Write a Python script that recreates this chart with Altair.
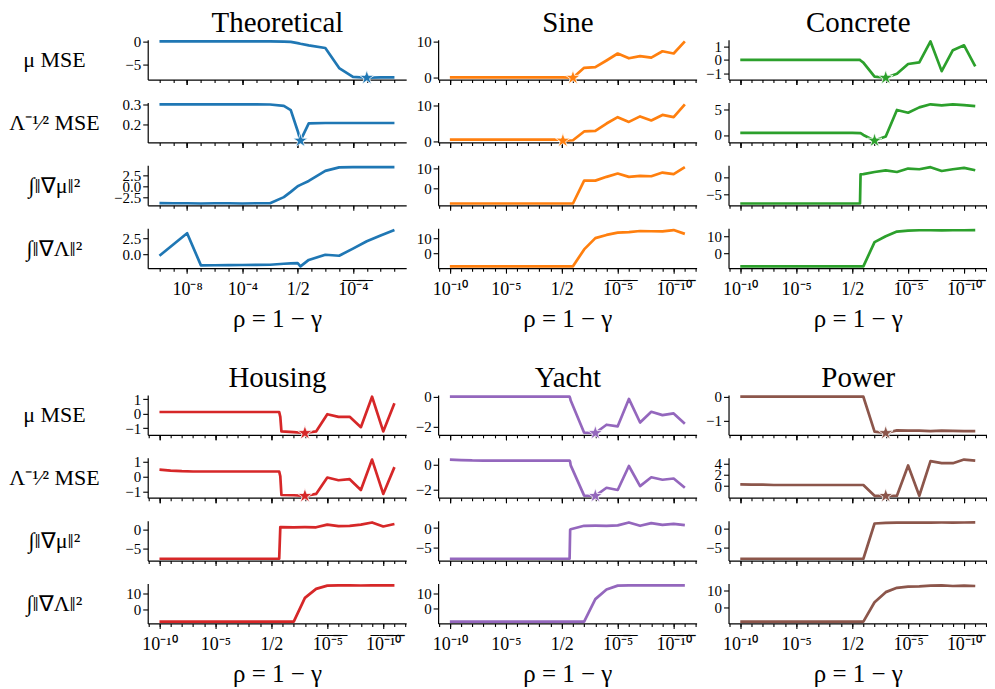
import altair as alt
import pandas as pd

# x positions are log-odds positions  u = log10(rho / (1 - rho))  (logit axis)
theo_x = [-10, -9, -8, -7, -6, -5, -4, -3, -2, -1, -0.5, 0, 0.2, 0.8, 2, 3, 4, 5, 6, 7]
theo_mu = [0, 0, 0, 0, 0, 0, 0, 0, 0, -0.02, -0.1, -0.35, -0.5, -0.85, -1.4, -5.7, -7.6, -7.78, -7.7, -7.7]
theo_lam = [0.300, 0.300, 0.300, 0.300, 0.300, 0.300, 0.300, 0.300, 0.299, 0.292, 0.272, 0.17, 0.123, 0.207, 0.209, 0.209, 0.209, 0.209, 0.209, 0.209]
theo_gmu = [-3.85, -3.9, -3.9, -3.95, -3.9, -3.9, -3.95, -3.9, -3.9, -2.5, -1.3, 0.0, 0.3, 1.2, 3.5, 4.3, 4.35, 4.35, 4.35, 4.35]
theo_glam = [-0.26, 1.56, 3.39, -1.82, -1.8, -1.78, -1.76, -1.75, -1.72, -1.56, -1.5, -1.46, -1.98, -0.94, -0.1, -0.26, 0.89, 2.08, 3.02, 3.9]

sine_x = [-10, -9, -8, -7, -6, -5, -4, -3, -2, -1, 0, 0.1, 1, 2, 3, 4, 5, 6, 7, 8, 9, 10, 11]
sine_mu = [0, 0, 0, 0, 0, 0, 0, 0, 0, 0, 0, 0, -0.1, 2.65, 2.83, 4.7, 6.64, 5.31, 5.93, 5.49, 7.26, 6.64, 10.0]
sine_lam = [0.55, 0.55, 0.55, 0.55, 0.55, 0.55, 0.55, 0.55, 0.55, 0.55, 0.55, 0.3, 0.4, 2.8, 2.96, 4.96, 6.7, 5.4, 6.9, 5.8, 7.3, 6.7, 10.2]
sine_gmu = [-8, -8, -8, -8, -8, -8, -8, -8, -8, -8, -8, -8, -8, 3.8, 3.85, 5.8, 7.5, 5.8, 6.3, 6.1, 8.0, 7.2, 10.8]
sine_glam = [-8.5, -8.5, -8.5, -8.5, -8.5, -8.5, -8.5, -8.5, -8.5, -8.5, -8.5, -8.5, -8.5, 2.6, 10.0, 12.1, 13.6, 14.0, 14.7, 14.5, 14.4, 15.3, 12.8]

conc_x = [-10, -9, -8, -7, -6, -5, -4, -3, -2, -1, 0, 0.7, 0.75, 1, 2, 3, 4, 5, 6, 7, 8, 9, 10, 11]
conc_mu = [0, 0, 0, 0, 0, 0, 0, 0, 0, 0, 0, 0, -0.05, -0.2, -1.25, -1.33, -1.04, -0.31, -0.19, 1.37, -0.84, 0.72, 1.08, -0.48]
conc_lam = [0.42, 0.41, 0.4, 0.4, 0.4, 0.4, 0.4, 0.4, 0.4, 0.4, 0.4, 0.38, 0.36, 0.0, -1.1, -0.3, 4.9, 4.35, 5.4, 6.0, 5.8, 6.0, 5.85, 5.65]
conc_gmu = [-7.7, -7.7, -7.7, -7.7, -7.7, -7.7, -7.7, -7.7, -7.7, -7.7, -7.7, -7.7, 0.75, 0.8, 1.4, 1.9, 1.4, 2.4, 2.2, 2.8, 1.7, 2.2, 2.6, 1.9]
conc_glam = [-7.7, -7.7, -7.7, -7.7, -7.7, -7.7, -7.7, -7.7, -7.7, -7.7, -7.7, -7.7, -7.7, -7.7, 6.5, 10.0, 12.7, 13.3, 13.5, 13.5, 13.4, 13.5, 13.5, 13.6]

hous_x = [-10, -9, -8, -7, -6, -5, -4, -3, -2, -1, 0, 0.7, 0.8, 0.9, 2, 3, 4, 5, 6, 7, 8, 9, 10, 11]
hous_mu = [0.11, 0.11, 0.11, 0.11, 0.11, 0.11, 0.11, 0.11, 0.11, 0.11, 0.11, 0.11, -0.22, -1.22, -1.27, -1.33, -1.22, -0.04, -0.22, -0.22, -0.93, 1.16, -1.22, 0.71]
hous_lam = [0.48, 0.42, 0.38, 0.36, 0.36, 0.36, 0.36, 0.36, 0.36, 0.36, 0.36, 0.36, 0.04, -1.2, -1.22, -1.26, -1.13, -0.04, -0.22, -0.15, -0.87, 1.15, -1.13, 0.65]
hous_gmu = [-7.6, -7.6, -7.6, -7.6, -7.6, -7.6, -7.6, -7.6, -7.6, -7.6, -7.6, -7.6, 0.58, 0.6, 0.55, 0.58, 0.55, 1.25, 0.83, 0.9, 1.25, 1.8, 0.75, 1.4]
hous_glam = [-7.35, -7.35, -7.35, -7.35, -7.35, -7.35, -7.35, -7.35, -7.35, -7.35, -7.35, -7.35, -7.35, -7.35, -7.35, 7.5, 13.1, 15.1, 15.3, 15.3, 15.2, 15.3, 15.3, 15.3]

yach_x = [-10, -9, -8, -7, -6, -5, -4, -3, -2, -1, 0, 0.7, 0.75, 0.8, 2, 3, 4, 5, 6, 7, 8, 9, 10, 11]
yach_mu = [0, 0, 0, 0, 0, 0, 0, 0, 0, 0, 0, 0, -0.1, -0.26, -2.43, -2.45, -1.89, -2.0, -0.15, -1.74, -1.02, -1.24, -1.13, -1.83]
yach_lam = [0.38, 0.34, 0.31, 0.3, 0.3, 0.3, 0.3, 0.3, 0.3, 0.3, 0.3, 0.3, 0.2, -0.08, -2.5, -2.52, -1.87, -2.05, -0.13, -1.74, -1.03, -1.23, -1.13, -1.87]
yach_gmu = [-8, -8, -8, -8, -8, -8, -8, -8, -8, -8, -8, -8, -0.43, -0.3, 0.6, 0.62, 0.6, 0.7, 1.47, 0.6, 1.3, 0.86, 1.1, 0.78]
yach_glam = [-8.7, -8.7, -8.7, -8.7, -8.7, -8.7, -8.7, -8.7, -8.7, -8.7, -8.7, -8.7, -8.7, -8.7, -8.7, 6.5, 13.0, 15.6, 15.8, 15.8, 15.8, 15.8, 15.8, 15.8]

powr_x = [-10, -9, -8, -7, -6, -5, -4, -3, -2, -1, 0, 1, 2, 3, 4, 5, 6, 7, 8, 9, 10, 11]
powr_mu = [0, 0, 0, 0, 0, 0, 0, 0, 0, 0, 0, 0, -1.45, -1.51, -1.4, -1.41, -1.41, -1.43, -1.41, -1.42, -1.43, -1.43]
powr_lam = [0.34, 0.3, 0.27, 0.22, 0.22, 0.22, 0.22, 0.22, 0.22, 0.22, 0.22, 0.22, -1.71, -1.72, -1.7, 3.7, -1.7, 4.46, 4.1, 4.1, 4.74, 4.57]
powr_gmu = [-7.85, -7.85, -7.85, -7.85, -7.85, -7.85, -7.85, -7.85, -7.85, -7.85, -7.85, -7.85, 1.47, 1.64, 1.72, 1.72, 1.73, 1.72, 1.74, 1.73, 1.74, 1.75]
powr_glam = [-8.8, -8.8, -8.8, -8.8, -8.8, -8.8, -8.8, -8.8, -8.8, -8.8, -8.8, -8.8, 2.9, 9.0, 11.6, 12.35, 12.5, 12.9, 13.1, 12.7, 12.9, 12.7]

titles = ["Theoretical", "Sine", "Concrete", "Housing", "Yacht", "Power"]
colors = ["#1f77b4", "#ff7f0e", "#2ca02c", "#d62728", "#9467bd", "#8c564b"]
row_labels = ["μ MSE", "Λ⁻¹⁄² MSE", "∫‖∇μ‖²", "∫‖∇Λ‖²"]
x_title = "ρ = 1 − γ"

yticks = {
    "Theoretical": [[0, -5], [0.2, 0.3], [-2.5, 0.0, 2.5], [0.0, 2.5]],
    "Sine": [[0, 10], [0, 10], [0, 10], [0, 10]],
    "Concrete": [[-1, 0, 1], [0, 5], [-5, 0], [0, 10]],
    "Housing": [[-1, 0, 1], [-1, 0, 1], [-5, 0], [0, 10]],
    "Yacht": [[-2, 0], [-2, 0], [-5, 0], [0, 10]],
    "Power": [[-1, 0], [0, 2, 4], [-5, 0], [0, 10]],
}
yfmt = {"Theoretical": [".0f", ".1f", ".1f", ".1f"]}

series = {
    "Theoretical": (theo_x, [theo_mu, theo_lam, theo_gmu, theo_glam]),
    "Sine": (sine_x, [sine_mu, sine_lam, sine_gmu, sine_glam]),
    "Concrete": (conc_x, [conc_mu, conc_lam, conc_gmu, conc_glam]),
    "Housing": (hous_x, [hous_mu, hous_lam, hous_gmu, hous_glam]),
    "Yacht": (yach_x, [yach_mu, yach_lam, yach_gmu, yach_glam]),
    "Power": (powr_x, [powr_mu, powr_lam, powr_gmu, powr_glam]),
}

FONT = "Liberation Serif"
W, H = 259, 40

# five-pointed star symbol in the unit square
STAR = ("M0,-1L0.225,-0.309L0.951,-0.309L0.363,0.118L0.588,0.809L0,0.382"
        "L-0.588,0.809L-0.363,0.118L-0.951,-0.309L-0.225,-0.309Z")

OV = "\u0305"


def over(s):
    return "".join(c + OV for c in s)


TXT = dict(titleFont=FONT, titleFontWeight="normal", titleColor="black")


def x_axes(theo, bottom, top_title):
    if theo:
        minor = list(range(-10, 8))
        major = [-8, -4, 0, 4]
        lab = ("datum.value == -8 ? '10⁻⁸' : datum.value == -4 ? '10⁻⁴' : "
               "datum.value == 0 ? '1/2' : '" + over("10⁻⁴") + "'")
    else:
        minor = list(range(-11, 13))
        major = [-10, -5, 0, 5, 10]
        lab = ("datum.value == -10 ? '10⁻¹⁰' : datum.value == -5 ? '10⁻⁵' : "
               "datum.value == 0 ? '1/2' : datum.value == 5 ? '" + over("10⁻⁵") + "' : '"
               + over("10⁻¹⁰") + "'")
    minor_ax = alt.Axis(values=minor, tickSize=3, labels=False, title=None, grid=False,
                        orient="bottom")
    kw = dict(values=major, tickSize=5, labels=bottom, labelExpr=lab, labelFlush=False,
              labelOverlap=False, labelFontSize=18, labelPadding=7, grid=False,
              domain=False, orient="bottom")
    if bottom:
        kw.update(title=x_title, titleFontSize=25, titlePadding=8, **TXT)
    else:
        kw.update(title=None)
    top_ax = None
    if top_title:
        top_ax = alt.Axis(orient="top", domain=False, ticks=False, labels=False, grid=False,
                          title=top_title, titleFontSize=29, titlePadding=2, **TXT)
    return minor_ax, alt.Axis(**kw), top_ax


def panel(name, r, first_col):
    xs, ys_all = series[name]
    ys = ys_all[r]
    color = colors[titles.index(name)]
    theo = name == "Theoretical"
    df = pd.DataFrame({"u": xs, "v": ys})
    lo, hi = min(ys), max(ys)
    pad = 0.05 * (hi - lo)
    ydom = [lo - pad, hi + pad]
    xdom = [-10.85, 7.85] if theo else [-11.05, 12.05]
    fmt = yfmt.get(name, [".0f"] * 4)[r]
    ykw = dict(values=yticks[name][r], format=fmt, tickSize=5, labelFontSize=15,
               labelPadding=2, labelFlush=False, labelOverlap=False, grid=False)
    if first_col:
        ykw.update(title=row_labels[r], titleAngle=0, titleAlign="center",
                   titleBaseline="middle", titleX=-94, titleY=H / 2, titleFontSize=22, **TXT)
    else:
        ykw.update(title=None)
    minor_ax, major_ax, top_ax = x_axes(theo, r == 3, name if r == 0 else None)
    xscale = alt.Scale(domain=xdom, nice=False, zero=False)
    yenc = alt.Y("v:Q", scale=alt.Scale(domain=ydom, nice=False, zero=False),
                 axis=alt.Axis(**ykw))
    line = alt.Chart(df).mark_line(color=color, strokeWidth=2.7, strokeJoin="round").encode(
        x=alt.X("u:Q", scale=xscale, axis=minor_ax), y=yenc)
    ghost = alt.Chart(df).mark_line(color=color, strokeWidth=0, opacity=0).encode(
        x=alt.X("u:Q", scale=xscale, axis=major_ax), y=yenc)
    layers = [line, ghost]
    if top_ax is not None:
        ghost_top = alt.Chart(df).mark_line(color=color, strokeWidth=0, opacity=0).encode(
            x=alt.X("u:Q", scale=xscale, axis=top_ax), y=yenc)
        layers.append(ghost_top)
    if r < 2:
        star_df = df.loc[[df["v"].idxmin()]]
        star = alt.Chart(star_df).mark_point(shape=STAR, filled=True, size=240, fill=color,
                                             stroke="white", strokeWidth=0.8, opacity=1).encode(
            x=alt.X("u:Q", scale=xscale, axis=major_ax), y=yenc)
        layers.append(star)
    return alt.layer(*layers).resolve_axis(x="independent").properties(width=W, height=H)


def spacer(h):
    return alt.Chart(pd.DataFrame({"a": [0]})).mark_point(opacity=0).encode(
        x=alt.X("a:Q", axis=None), y=alt.Y("a:Q", axis=None)).properties(width=W, height=h)


cells = []
for block in (titles[:3], titles[3:]):
    for r in range(4):
        for c, name in enumerate(block):
            cells.append(panel(name, r, c == 0))
    if block == titles[:3]:
        cells.extend([spacer(81), spacer(81), spacer(81)])

chart = alt.concat(*cells, columns=3, bounds="flush",
                   spacing={"row": 23, "column": 32}).properties(
    padding={"left": 0, "top": 0, "right": 0, "bottom": 0}
).configure_view(stroke=None).configure_axis(
    domainColor="black", domainWidth=1.2, tickColor="black", tickWidth=1.1,
    labelColor="black", labelFont=FONT
)

chart.save("out.html", embed_options={"renderer": "svg", "actions": False})
